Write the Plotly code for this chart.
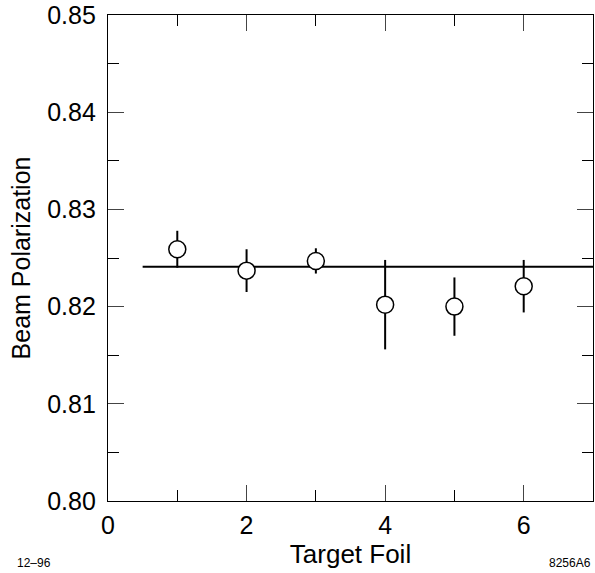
import plotly.graph_objects as go

foil = [1, 2, 3, 4, 5, 6]
polarization = [0.8259, 0.8237, 0.8247, 0.8202, 0.8200, 0.8221]
errors = [0.0019, 0.0022, 0.0013, 0.0046, 0.0030, 0.0027]
fit_x = [0.5, 7.0]
fit_value = 0.8241

fig = go.Figure()
fig.add_trace(go.Scatter(
    x=fit_x, y=[fit_value, fit_value], mode="lines",
    line=dict(color="black", width=2), showlegend=False, hoverinfo="skip"))
fig.add_trace(go.Scatter(
    x=foil, y=polarization, mode="markers",
    error_y=dict(type="data", array=errors, color="black", thickness=2, width=0),
    marker=dict(symbol="circle", size=17, color="white",
                line=dict(color="black", width=1.5)),
    showlegend=False))

font = "Liberation Sans, Arial, sans-serif"
W, H = 595, 573
L, R, T, B = 107.5, 2, 15, 72
fig.update_layout(
    width=W, height=H,
    margin=dict(l=L, r=R, t=T, b=B, autoexpand=False),
    paper_bgcolor="white", plot_bgcolor="white",
    font=dict(family=font, color="black"),
    xaxis=dict(range=[0, 7], tickvals=[0, 2, 4, 6], ticks="inside", ticklen=16,
               tickwidth=1.3, mirror="allticks", showline=True, linecolor="black",
               linewidth=1.3, showgrid=False, zeroline=False, automargin=False,
               tickfont=dict(size=25, family=font), ticklabelstandoff=2,
               minor=dict(tickvals=[1, 3, 5], ticks="inside", ticklen=11,
                          tickwidth=1.3, tickcolor="black", showgrid=False),
               title=dict(text="Target Foil", font=dict(size=26, family=font), standoff=4)),
    yaxis=dict(range=[0.80, 0.85], tickvals=[0.80, 0.81, 0.82, 0.83, 0.84, 0.85],
               tickformat=".2f", ticks="inside", ticklen=16, tickwidth=1.3,
               mirror="allticks", showline=True, linecolor="black", linewidth=1.3,
               showgrid=False, zeroline=False, ticklabelstandoff=6, automargin=False,
               tickfont=dict(size=25, family=font),
               minor=dict(tickvals=[0.805, 0.815, 0.825, 0.835, 0.845], ticks="inside",
                          ticklen=11, tickwidth=1.3, tickcolor="black", showgrid=False),
               title=dict(text="Beam Polarization", font=dict(size=25, family=font), standoff=9)),
)
pw, ph = W - L - R, H - T - B


def px(x):
    return (x - L) / pw


def py(y):
    return (H - B - y) / ph


fig.add_annotation(text="12–96", x=px(14), y=py(563), xref="paper", yref="paper",
                   showarrow=False, font=dict(size=12, family=font),
                   xanchor="left", yanchor="middle")
fig.add_annotation(text="8256A6", x=px(593), y=py(563), xref="paper", yref="paper",
                   showarrow=False, font=dict(size=12, family=font),
                   xanchor="right", yanchor="middle")

fig.write_html(
    "out.html",
    config={"displayModeBar": False},
    post_script="document.body.style.margin='0';document.body.style.overflow='hidden';",
)
